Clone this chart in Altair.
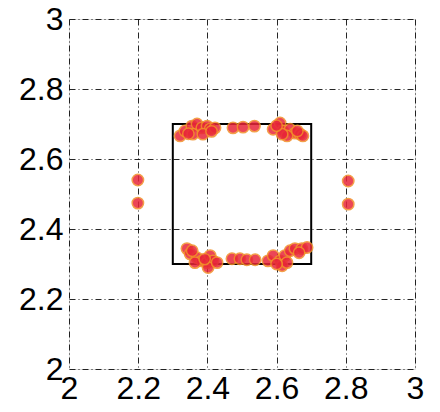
import altair as alt
import pandas as pd

# Measured points: top edge, bottom edge and the two side pairs
top_x = [2.321, 2.335, 2.355, 2.370, 2.384, 2.399, 2.408, 2.422, 2.358, 2.387,
         2.345, 2.412,
         2.474, 2.503, 2.536,
         2.590, 2.610, 2.618, 2.639, 2.653, 2.668, 2.676, 2.630, 2.616, 2.600, 2.660]
top_y = [2.666, 2.680, 2.694, 2.700, 2.689, 2.694, 2.686, 2.689, 2.671, 2.671,
         2.672, 2.679,
         2.689, 2.691, 2.694,
         2.685, 2.703, 2.680, 2.685, 2.674, 2.671, 2.666, 2.666, 2.671, 2.695, 2.680]
bot_x = [2.341, 2.350, 2.370, 2.384, 2.399, 2.408, 2.416, 2.364, 2.402, 2.428,
         2.356, 2.392,
         2.471, 2.494, 2.514, 2.538,
         2.575, 2.590, 2.610, 2.624, 2.639, 2.653, 2.673, 2.688, 2.616, 2.630, 2.600, 2.665]
bot_y = [2.344, 2.329, 2.318, 2.309, 2.304, 2.324, 2.309, 2.304, 2.290, 2.304,
         2.338, 2.314,
         2.315, 2.315, 2.312, 2.312,
         2.309, 2.324, 2.309, 2.324, 2.338, 2.344, 2.344, 2.347, 2.295, 2.304, 2.300, 2.332]
side_x = [2.199, 2.199, 2.807, 2.807]
side_y = [2.540, 2.474, 2.537, 2.471]

# Target square
sq_x0, sq_x1 = [2.3], [2.7]
sq_y0, sq_y1 = [2.3], [2.7]

ticks = [2, 2.2, 2.4, 2.6, 2.8, 3]

pts = pd.DataFrame({"x": top_x + bot_x + side_x, "y": top_y + bot_y + side_y})
sq = pd.DataFrame({"x0": sq_x0, "x1": sq_x1, "y0": sq_y0, "y1": sq_y1})

font = "Liberation Sans"
xscale = alt.Scale(domain=[2, 3], nice=False, zero=False)
yscale = alt.Scale(domain=[2, 3], nice=False, zero=False)

common = dict(values=ticks, title=None, format="~g", labelFont=font,
              labelFontSize=32, labelColor="black", ticks=False, domain=False,
              grid=True, gridColor="black", gridDash=[6, 3, 1, 3],
              gridWidth=1, gridOpacity=0.85, labelFlush=False)
xaxis = alt.Axis(labelPadding=4, **common)
yaxis = alt.Axis(labelPadding=6, **common)

square = alt.Chart(sq).mark_rect(filled=False, stroke="black", strokeWidth=2).encode(
    x=alt.X("x0:Q", scale=xscale, axis=xaxis),
    x2="x1:Q",
    y=alt.Y("y0:Q", scale=yscale, axis=yaxis),
    y2="y1:Q",
)

points = alt.Chart(pts).mark_point(
    filled=True, size=130, fill="#e8263a", stroke="#f2902a",
    strokeWidth=1.5, opacity=0.85
).encode(
    x=alt.X("x:Q", scale=xscale),
    y=alt.Y("y:Q", scale=yscale),
)

chart = alt.layer(square, points).properties(
    width=346, height=350,
    autosize=alt.AutoSizeParams(type="none"),
    padding={"left": 69, "top": 19, "right": 25, "bottom": 43},
).configure_view(stroke="black", strokeWidth=1.5).configure(background="white")

chart.save("out.html", embed_options={"renderer": "svg", "actions": False})
